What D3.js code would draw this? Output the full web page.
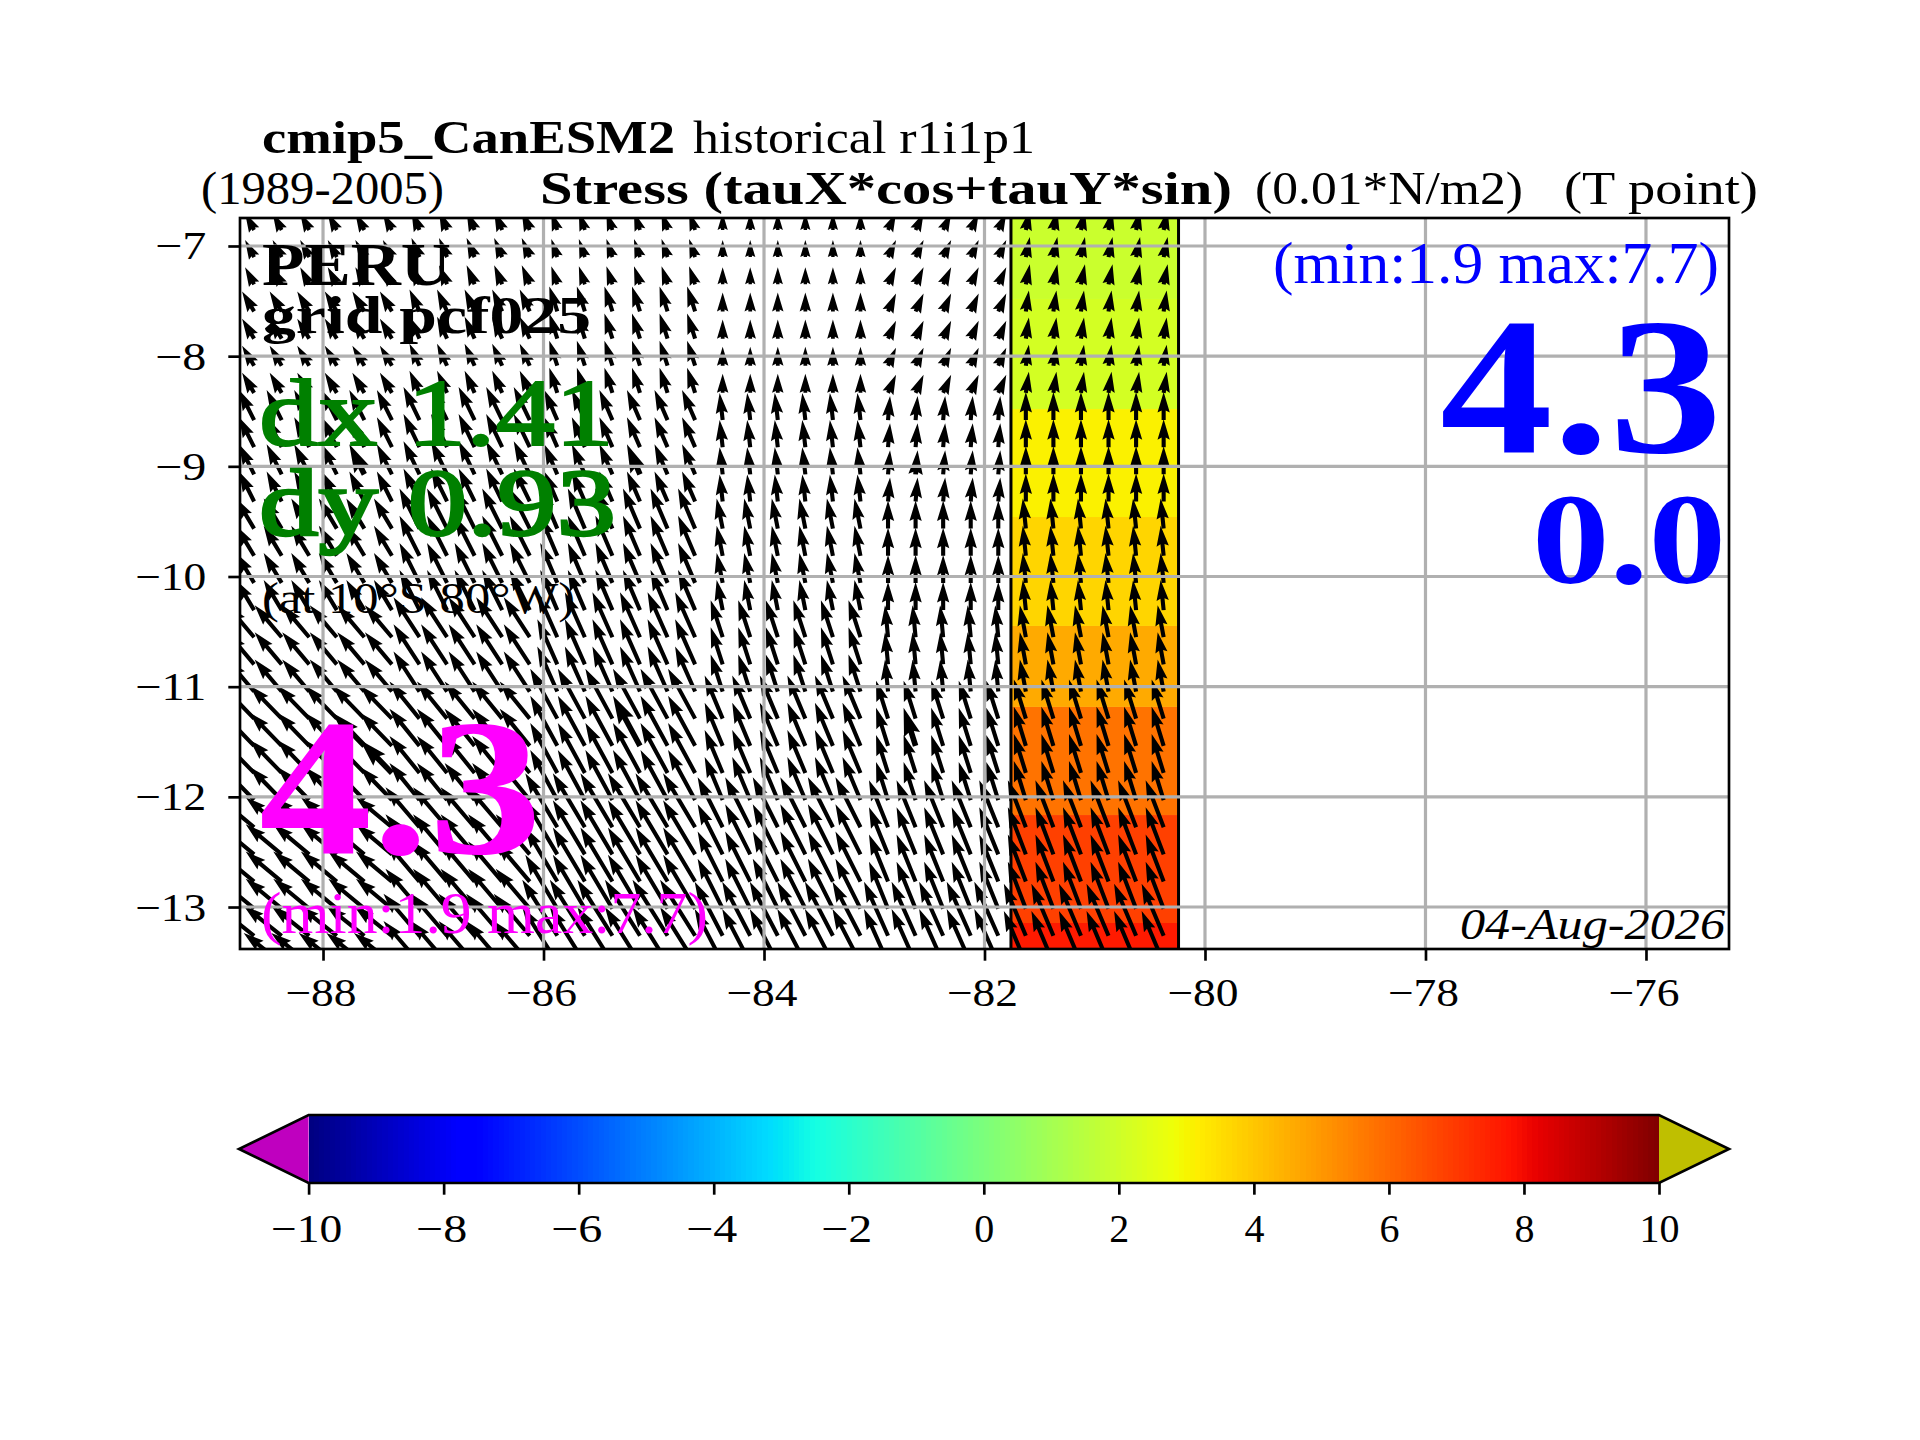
<!DOCTYPE html>
<html>
<head>
<meta charset="utf-8">
<script src="https://cdn.jsdelivr.net/npm/d3@7"></script>
<style>
body { margin: 0; background: #fff; }
text { font-family: "Liberation Serif", serif; fill: #000; }
</style>
</head>
<body>
<div id="chart"></div>
<script>
// quiver grid, degrees
const lons = [-88.625, -88.375, -88.125, -87.875, -87.625, -87.375, -87.125, -86.875, -86.625, -86.375, -86.125, -85.875,
    -85.625, -85.375, -85.125, -84.875, -84.625, -84.375, -84.125, -83.875, -83.625, -83.375, -83.125, -82.875,
    -82.625, -82.375, -82.125, -81.875, -81.625, -81.375, -81.125, -80.875, -80.625, -80.375];
const lats = [-6.855, -7.101, -7.348, -7.594, -7.841, -8.087, -8.333, -8.58, -8.826, -9.073, -9.319, -9.565, -9.812, -10.058,
    -10.305, -10.551, -10.797, -11.044, -11.29, -11.537, -11.783, -12.029, -12.276, -12.522, -12.769, -13.015, -13.261, -13.508];

// model cells the quiver points fall in: how many lons / lats per cell
const lonCells = [6, 5, 6, 6, 5, 6];
const latCells = [3, 4, 4, 4, 3, 4, 4, 2];

// stress components per model cell, 0.01 N/m2
const tauU = [
    [-1.13, -1.0, -0.75, 0, 1.0, 0.5],
    [-1.5, -1.25, -1.0, 0, 1.0, 0.38],
    [-1.88, -2.0, -1.63, -0.38, 0.25, 0],
    [-2.25, -2.5, -2.13, -0.75, 0, -0.38],
    [-3.38, -3.25, -2.5, -1.5, -0.38, -0.75],
    [-4.0, -3.75, -3.38, -2.25, -1.5, -1.5],
    [-4.5, -4.25, -4.0, -3.13, -2.38, -2.25],
    [-4.75, -4.5, -4.38, -3.5, -3.0, -2.75]
];
const tauV = [
    [2.13, 2.38, 2.25, 2.13, 2.13, 2.5],
    [2.5, 2.75, 3.13, 2.38, 2.25, 2.63],
    [3.75, 4.13, 3.75, 3.38, 3.0, 3.5],
    [3.75, 5.0, 5.0, 3.75, 3.5, 3.75],
    [4.0, 5.0, 5.63, 4.63, 4.0, 4.0],
    [4.13, 4.63, 6.25, 5.38, 4.75, 4.88],
    [3.75, 5.0, 6.75, 6.25, 5.88, 5.88],
    [3.75, 5.25, 7.0, 6.75, 6.75, 6.5]
];
// a few doubled-up arrows in the picture, [lon index, lat index]
const heavyArrows = [[4, 9], [14, 9], [24, 9], [24, 19], [14, 19], [4, 19], [5, 20]];

// the one ocean column that has a colour
const bandLon = [-81.76, -80.24];
const bandLatEdges = [-6.746, -7.481, -8.48, -9.46, -10.449, -11.184, -12.165, -13.145, -13.381];
const bandValues = [1.9, 2.14, 3.1, 3.7, 4.6, 5.77, 6.85, 7.66];

const xTicks = [-88, -86, -84, -82, -80, -78, -76];
const yTicks = [-7, -8, -9, -10, -11, -12, -13];
const cbTicks = [-10, -8, -6, -4, -2, 0, 2, 4, 6, 8, 10];

const W = 1920, H = 1440;
const ax = {left: 240, right: 1729, top: 218, bottom: 949};
const lineW = 2.67;

const svg = d3.select('#chart').append('svg').attr('width', W).attr('height', H);

const x = d3.scaleLinear().domain([-88.753, -75.247]).range([ax.left, ax.right]);
const y = d3.scaleLinear().domain([-6.746, -13.381]).range([ax.top, ax.bottom]);

// jet, same break points as matplotlib
const jetR = d3.scaleLinear().domain([0, 0.35, 0.66, 0.89, 1]).range([0, 0, 1, 1, 0.5]).clamp(true);
const jetG = d3.scaleLinear().domain([0, 0.125, 0.375, 0.64, 0.91, 1]).range([0, 0, 1, 1, 0, 0]).clamp(true);
const jetB = d3.scaleLinear().domain([0, 0.11, 0.34, 0.65, 1]).range([0.5, 1, 1, 0, 0]).clamp(true);
const toUnit = d3.scaleLinear().domain([-10, 10]).range([0, 1]);
const jet = v => {
    const t = toUnit(v);
    return d3.rgb(jetR(t) * 255, jetG(t) * 255, jetB(t) * 255).formatHex();
};

svg.append('clipPath').attr('id', 'axes-clip').append('rect')
    .attr('x', ax.left).attr('y', ax.top).attr('width', ax.right - ax.left).attr('height', ax.bottom - ax.top);

const plot = svg.append('g').attr('clip-path', 'url(#axes-clip)');

// coloured cells
plot.selectAll('rect.cell').data(bandValues).enter().append('rect').attr('class', 'cell')
    .attr('x', x(bandLon[0])).attr('width', x(bandLon[1]) - x(bandLon[0]))
    .attr('y', (d, i) => y(bandLatEdges[i]))
    .attr('height', (d, i) => y(bandLatEdges[i + 1]) - y(bandLatEdges[i]))
    .attr('fill', d => jet(d));
plot.selectAll('line.edge').data(bandLon).enter().append('line').attr('class', 'edge')
    .attr('x1', d => x(d)).attr('x2', d => x(d)).attr('y1', ax.top).attr('y2', ax.bottom)
    .attr('stroke', '#000').attr('stroke-width', 3);

// lon/lat index -> model cell index
const expand = sizes => sizes.flatMap((n, i) => d3.range(n).map(() => i));
const lonCell = expand(lonCells), latCell = expand(latCells);

const pxPerUnit = d3.scaleLinear().domain([0, 1]).range([0, 8]);

function arrowPath(len, w) {
    // matplotlib quiver head: 3 wide, 5 long, 4.5 at the axis, shrunk if the arrow is short
    const k = Math.min(1, len / (5 * w));
    const h = w / 2 * k;
    const p = [[0, -h], [len - 4.5 * w * k, -h], [len - 5 * w * k, -1.5 * w * k], [len, 0],
        [len - 5 * w * k, 1.5 * w * k], [len - 4.5 * w * k, h], [0, h]];
    return 'M' + p.map(d => d.join(',')).join('L') + 'Z';
}

const arrows = lats.flatMap((lat, r) => lons.map((lon, c) => ({
    lon, lat,
    u: tauU[latCell[r]][lonCell[c]],
    v: tauV[latCell[r]][lonCell[c]],
    heavy: heavyArrows.some(h => h[0] === c && h[1] === r)
})));

plot.selectAll('path.arrow').data(arrows).enter().append('path').attr('class', 'arrow')
    .attr('transform', d => `translate(${x(d.lon)},${y(d.lat)}) rotate(${Math.atan2(-d.v, d.u) * 180 / Math.PI})`)
    .attr('d', d => arrowPath(pxPerUnit(Math.hypot(d.u, d.v)), d.heavy ? 5.6 : 4.1))
    .attr('fill', '#000');

// grid goes over the arrows
plot.selectAll('line.gx').data(xTicks).enter().append('line').attr('class', 'gx')
    .attr('x1', d => x(d)).attr('x2', d => x(d)).attr('y1', ax.top).attr('y2', ax.bottom)
    .attr('stroke', '#b0b0b0').attr('stroke-width', 3.2);
plot.selectAll('line.gy').data(yTicks).enter().append('line').attr('class', 'gy')
    .attr('x1', ax.left).attr('x2', ax.right).attr('y1', d => y(d)).attr('y2', d => y(d))
    .attr('stroke', '#b0b0b0').attr('stroke-width', 3.2);

function styleAxis(g) {
    g.select('.domain').remove();
    g.selectAll('.tick line').attr('stroke', '#000').attr('stroke-width', lineW);
    g.selectAll('.tick text').attr('font-size', 40).attr('font-family', '"Liberation Serif", serif').attr('fill', '#000')
        .each(function(d) {
            // the minus in the reference font is wider than this one
            if (d < 0) d3.select(this).attr('textLength', (0.778 + String(-d).length * 0.5) * 40).attr('lengthAdjust', 'spacingAndGlyphs');
        });
}

const xAxis = svg.append('g').attr('transform', `translate(0,${ax.bottom})`)
    .call(d3.axisBottom(x).tickValues(xTicks).tickSize(11.7).tickPadding(11.7).tickFormat(d3.format('d'))).call(styleAxis);
xAxis.selectAll('.tick text').attr('dy', null).attr('y', 57).attr('x', -2.5);
const yAxis = svg.append('g').attr('transform', `translate(${ax.left},0)`)
    .call(d3.axisLeft(y).tickValues(yTicks).tickSize(11.7).tickPadding(22).tickFormat(d3.format('d'))).call(styleAxis);
yAxis.selectAll('.tick text').attr('dy', 13);

svg.append('rect').attr('x', ax.left).attr('y', ax.top).attr('width', ax.right - ax.left).attr('height', ax.bottom - ax.top)
    .attr('fill', 'none').attr('stroke', '#000').attr('stroke-width', lineW);

// colour bar
const cb = {left: 308.6, right: 1659, top: 1115, bottom: 1183, tipL: 239, tipR: 1729};
const cbX = d3.scaleLinear().domain([-10, 10]).range([cb.left, cb.right]);
const cbSteps = d3.range(256).map(i => -10 + 20 * i / 256);
svg.append('g').attr('shape-rendering', 'crispEdges').selectAll('rect').data(cbSteps).enter().append('rect')
    .attr('x', d => cbX(d)).attr('width', cbX(20 / 256 - 10) - cbX(-10) + 1)
    .attr('y', cb.top).attr('height', cb.bottom - cb.top)
    .attr('fill', d => jet(d + 10 / 256));
const midY = (cb.top + cb.bottom) / 2;
svg.append('path').attr('d', `M${cb.left},${cb.top}L${cb.tipL},${midY}L${cb.left},${cb.bottom}Z`).attr('fill', '#bf00bf');
svg.append('path').attr('d', `M${cb.right},${cb.top}L${cb.tipR},${midY}L${cb.right},${cb.bottom}Z`).attr('fill', '#bfbf00');
svg.append('path')
    .attr('d', `M${cb.left},${cb.top}L${cb.right},${cb.top}L${cb.tipR},${midY}L${cb.right},${cb.bottom}L${cb.left},${cb.bottom}L${cb.tipL},${midY}Z`)
    .attr('fill', 'none').attr('stroke', '#000').attr('stroke-width', lineW).attr('stroke-linejoin', 'miter');
const cbAxis = svg.append('g').attr('transform', `translate(0,${cb.bottom})`)
    .call(d3.axisBottom(cbX).tickValues(cbTicks).tickSize(11.7).tickPadding(11.7).tickFormat(d3.format('d'))).call(styleAxis);
cbAxis.selectAll('.tick text').attr('dy', null).attr('y', 59).attr('x', d => d < 0 ? -2.5 : 0);

// all the labels: text, left x, right x, baseline, size, weight, style, colour, extra stroke
const labels = [
    ['cmip5_CanESM2', 262, 675, 153, 47, 'bold', 'normal', '#000', 0],
    ['historical r1i1p1', 693, 1035, 153, 47, 'normal', 'normal', '#000', 0],
    ['(1989-2005)', 201, 444, 204, 47, 'normal', 'normal', '#000', 0],
    ['Stress (tauX*cos+tauY*sin)', 540, 1232, 204, 47, 'bold', 'normal', '#000', 0],
    ['(0.01*N/m2)', 1255, 1523, 204, 47, 'normal', 'normal', '#000', 0],
    ['(T point)', 1564, 1758, 204, 47, 'normal', 'normal', '#000', 0],
    ['PERU', 262, 451, 285, 62, 'bold', 'normal', '#000', 0],
    ['grid pcf025', 262, 591, 333, 52, 'bold', 'normal', '#000', 0],
    ['dx 1.41', 259, 614, 445, 96, 'normal', 'normal', '#008000', 2],
    ['dy 0.93', 259, 616, 535, 96, 'normal', 'normal', '#008000', 2.5],
    ['(at 10°S 80°W)', 262, 575, 613, 44, 'normal', 'normal', '#000', 0],
    ['4.3', 259, 542, 853, 194, 'bold', 'normal', '#ff00ff', 0],
    ['(min:1.9 max:7.7)', 261, 708, 933, 60, 'normal', 'normal', '#ff00ff', 0],
    ['(min:1.9 max:7.7)', 1273, 1719, 283, 60, 'normal', 'normal', '#0000ff', 0],
    ['4.3', 1440, 1722, 452, 194, 'bold', 'normal', '#0000ff', 0],
    ['0.0', 1532, 1726, 583, 130, 'bold', 'normal', '#0000ff', 0],
    ['04-Aug-2026', 1460, 1725, 939, 44, 'normal', 'italic', '#000', 0]
];
svg.append('g').selectAll('text').data(labels).enter().append('text')
    .attr('x', d => d[1]).attr('y', d => d[3])
    .attr('textLength', d => d[2] - d[1]).attr('lengthAdjust', 'spacingAndGlyphs')
    .attr('font-size', d => d[4]).attr('font-weight', d => d[5]).attr('font-style', d => d[6])
    .style('fill', d => d[7])
    .style('stroke', d => d[8] ? d[7] : 'none').style('stroke-width', d => d[8])
    .text(d => d[0]);
</script>
</body>
</html>
